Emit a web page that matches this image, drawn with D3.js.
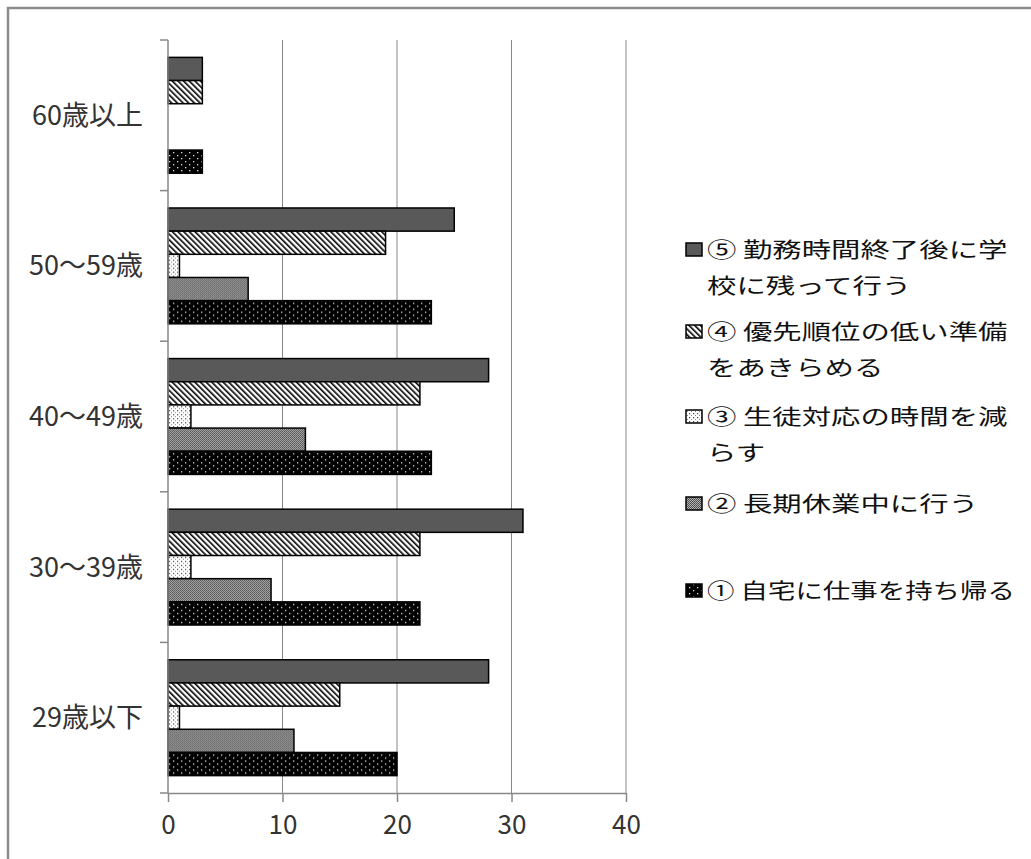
<!DOCTYPE html>
<html>
<head>
<meta charset="utf-8">
<script src="https://cdn.jsdelivr.net/npm/d3@7"></script>
<style>
  body { margin: 0; background: #fff; }
  text { font-family: "Noto Sans CJK JP", sans-serif; }
</style>
</head>
<body>
<div id="chart"></div>
<script>
const width = 1031;
const height = 859;

// data
const categories = ["60歳以上", "50～59歳", "40～49歳", "30～39歳", "29歳以下"];
const seriesKeys = ["s5", "s4", "s3", "s2", "s1"];
const s5 = [3, 25, 28, 31, 28];   // ⑤ 勤務時間終了後に学校に残って行う
const s4 = [3, 19, 22, 22, 15];   // ④ 優先順位の低い準備をあきらめる
const s3 = [0, 1, 2, 2, 1];       // ③ 生徒対応の時間を減らす
const s2 = [0, 7, 12, 9, 11];     // ② 長期休業中に行う
const s1 = [3, 23, 23, 22, 20];   // ① 自宅に仕事を持ち帰る
const xTicks = [0, 10, 20, 30, 40];
const legendLabels = [
  ["⑤ 勤務時間終了後に学", "校に残って行う"],
  ["④ 優先順位の低い準備", "をあきらめる"],
  ["③ 生徒対応の時間を減", "らす"],
  ["② 長期休業中に行う"],
  ["① 自宅に仕事を持ち帰る"]
];

const values = { s5: s5, s4: s4, s3: s3, s2: s2, s1: s1 };
const fills = { s5: "#595959", s4: "url(#pStripe)", s3: "url(#pSparse)", s2: "url(#pGray)", s1: "url(#pBlackDots)" };

const svg = d3.select("#chart").append("svg").attr("width", width).attr("height", height);

// patterns
const defs = svg.append("defs");
const stripe = defs.append("pattern").attr("id", "pStripe").attr("patternUnits", "userSpaceOnUse")
  .attr("width", 4).attr("height", 4).attr("patternTransform", "rotate(-45)");
stripe.append("rect").attr("width", 4).attr("height", 4).attr("fill", "#fff");
stripe.append("rect").attr("x", 0).attr("width", 1.6).attr("height", 4).attr("fill", "#000");

const sparse = defs.append("pattern").attr("id", "pSparse").attr("patternUnits", "userSpaceOnUse")
  .attr("width", 4).attr("height", 4);
sparse.append("rect").attr("width", 4).attr("height", 4).attr("fill", "#fff");
sparse.append("rect").attr("x", 1).attr("y", 1).attr("width", 1.2).attr("height", 1.2).attr("fill", "#444");
sparse.append("rect").attr("x", 3).attr("y", 3).attr("width", 1.2).attr("height", 1.2).attr("fill", "#888");

const gray = defs.append("pattern").attr("id", "pGray").attr("patternUnits", "userSpaceOnUse")
  .attr("width", 2).attr("height", 2);
gray.append("rect").attr("width", 2).attr("height", 2).attr("fill", "#b4b4b4");
gray.append("rect").attr("x", 0).attr("y", 0).attr("width", 1).attr("height", 1).attr("fill", "#444");
gray.append("rect").attr("x", 1).attr("y", 1).attr("width", 1).attr("height", 1).attr("fill", "#555");

const bdots = defs.append("pattern").attr("id", "pBlackDots").attr("patternUnits", "userSpaceOnUse")
  .attr("width", 8).attr("height", 6);
bdots.append("rect").attr("width", 8).attr("height", 6).attr("fill", "#000");
bdots.append("rect").attr("x", 1).attr("y", 1).attr("width", 1.3).attr("height", 1.3).attr("fill", "#ddd");
bdots.append("rect").attr("x", 5).attr("y", 4).attr("width", 1.3).attr("height", 1.3).attr("fill", "#ddd");

// outer border
svg.append("rect")
  .attr("x", 8).attr("y", 8).attr("width", 1040).attr("height", 900)
  .attr("fill", "none").attr("stroke", "#8c8c8c").attr("stroke-width", 2.5);

// scales
const x = d3.scaleLinear().domain([0, 40]).range([168, 626]);
const y = d3.scaleBand().domain(categories).range([40, 793]);
const yInner = d3.scaleBand().domain(seriesKeys).range([0, y.bandwidth()]).paddingInner(0).paddingOuter(0.75);

// gridlines
svg.append("g").selectAll("line").data(xTicks.slice(1)).join("line")
  .attr("x1", d => x(d)).attr("x2", d => x(d))
  .attr("y1", 40).attr("y2", 793)
  .attr("stroke", "#888").attr("stroke-width", 1);

// bars
const groups = svg.append("g").selectAll("g").data(categories).join("g")
  .attr("transform", d => `translate(0,${y(d)})`);

groups.selectAll("rect")
  .data((c, i) => seriesKeys.map(k => ({ key: k, value: values[k][i] })).filter(d => d.value > 0))
  .join("rect")
  .attr("x", x(0))
  .attr("y", d => yInner(d.key))
  .attr("width", d => x(d.value) - x(0))
  .attr("height", yInner.bandwidth())
  .attr("fill", d => fills[d.key])
  .attr("stroke", "#000")
  .attr("stroke-width", 1.5);

// y axis (category axis, ticks at band boundaries)
svg.append("line")
  .attr("x1", x(0)).attr("x2", x(0)).attr("y1", 40).attr("y2", 793)
  .attr("stroke", "#888").attr("stroke-width", 1.5);
svg.append("g").selectAll("line").data(categories.map(c => y(c)).concat([793])).join("line")
  .attr("x1", 160).attr("x2", x(0))
  .attr("y1", d => d).attr("y2", d => d)
  .attr("stroke", "#888").attr("stroke-width", 1.5);
svg.append("g").selectAll("text").data(categories).join("text")
  .attr("x", 143)
  .attr("y", d => y(d) + y.bandwidth() / 2)
  .attr("dy", "0.35em")
  .attr("text-anchor", "end")
  .style("font-size", "27px")
  .style("fill", "#333")
  .text(d => d);

// x axis
const xAxis = svg.append("g")
  .attr("transform", "translate(0,793)")
  .call(d3.axisBottom(x).tickValues(xTicks).tickSize(9).tickSizeOuter(0).tickPadding(14));
xAxis.select(".domain").attr("stroke", "#888").attr("stroke-width", 1.5);
xAxis.selectAll(".tick line").attr("stroke", "#888").attr("stroke-width", 1.5);
xAxis.selectAll(".tick text")
  .style("font-size", "26px")
  .style("font-family", "'Noto Sans CJK JP', sans-serif")
  .attr("fill", "#333");

// legend
const legendY = [257, 339, 424, 511, 598];
const legend = svg.append("g").selectAll("g").data(seriesKeys).join("g")
  .attr("transform", (d, i) => `translate(0,${legendY[i]})`);
legend.append("rect")
  .attr("x", 686).attr("y", -14).attr("width", 16).attr("height", 13)
  .attr("fill", d => fills[d])
  .attr("stroke", "#000").attr("stroke-width", 1.5);
legend.each(function (d, i) {
  const g = d3.select(this);
  legendLabels[i].forEach((line, j) => {
    const t = g.append("text")
      .style("font-size", "21px")
      .style("fill", "#111")
      .text(line);
    // stretch wide like the original, but keep inside the frame
    const w = t.node().getComputedTextLength();
    const sx = Math.min(1.4, 308 / w);
    t.attr("transform", `translate(707,${j * 36}) scale(${sx},1)`);
  });
});
</script>
</body>
</html>
